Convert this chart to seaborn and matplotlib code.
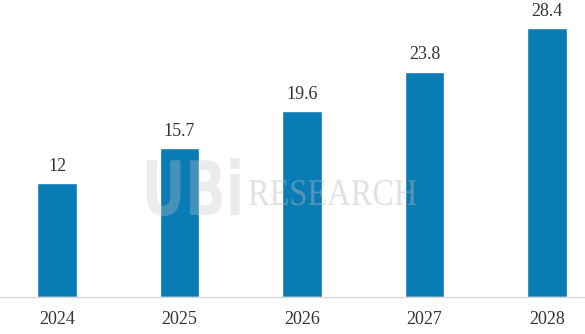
import matplotlib
matplotlib.use("Agg")
import matplotlib.pyplot as plt
import seaborn as sns
import pandas as pd
from matplotlib.textpath import TextPath
from matplotlib.patches import PathPatch
from matplotlib.font_manager import FontProperties
from matplotlib.transforms import Affine2D

years = ["2024", "2025", "2026", "2027", "2028"]
values = [12, 15.7, 19.6, 23.8, 28.4]
value_labels = ["12", "15.7", "19.6", "23.8", "28.4"]

sns.set_theme(style="white")
plt.rcParams["font.family"] = ["Liberation Serif", "DejaVu Serif"]

df = pd.DataFrame({"year": years, "value": values})

fig = plt.figure(figsize=(5.85, 3.34), dpi=100)
ax = fig.add_axes([0, 37 / 334, 1, 284 / 334])

sns.barplot(data=df, x="year", y="value", color="#0A7CB5", saturation=1,
            width=0.32, ax=ax, zorder=2)

for i, (v, lab) in enumerate(zip(values, value_labels)):
    ax.text(i, v + 0.9, lab, ha="center", va="bottom", fontsize=13,
            color="#333333")

ax.set_xlim(-57 / 122.5, 4 + 38 / 122.5)
ax.set_ylim(0, 284 / 9.47)
ax.set_xlabel("")
ax.set_ylabel("")
ax.set_yticks([])
ax.tick_params(axis="x", length=0, labelsize=13, colors="#333333", pad=10)
for s in ["left", "right", "top"]:
    ax.spines[s].set_visible(False)
ax.spines["bottom"].set_color("#d9d9d9")
ax.spines["bottom"].set_linewidth(1)

# watermark (drawn over the bars, semi-transparent)
H = 334
tp1 = TextPath((0, 0), "RESEARCH", size=37.8,
               prop=FontProperties(family="Liberation Serif"))
fig.add_artist(PathPatch(tp1, transform=Affine2D().scale(0.858, 1).translate(248, H - 205),
                         facecolor="#b8b8b8", edgecolor="none", alpha=0.42, zorder=5))
tp2 = TextPath((0, 0), "UBi", size=75,
               prop=FontProperties(family="DejaVu Sans", weight="bold"))
fig.add_artist(PathPatch(tp2, transform=Affine2D().scale(0.71, 1).translate(142, H - 215),
                         facecolor="#c4c4c4", edgecolor="none", alpha=0.32, zorder=5))

fig.savefig("out.png", dpi=100)
